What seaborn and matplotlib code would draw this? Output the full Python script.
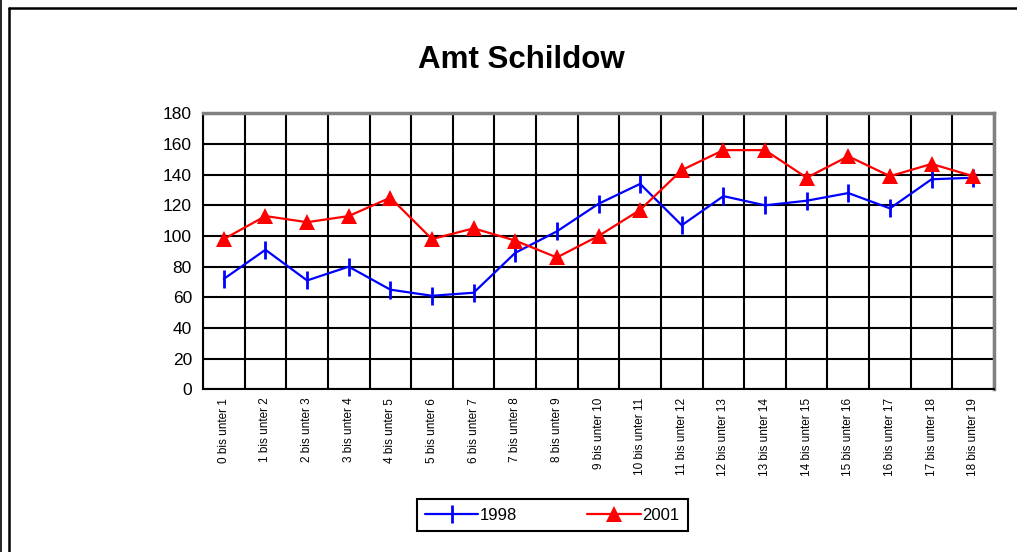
import matplotlib
matplotlib.use("Agg")
import matplotlib.pyplot as plt
from matplotlib.lines import Line2D
import numpy as np
import seaborn as sns

# Data
categories = [f"{i} bis unter {i + 1}" for i in range(19)]
values_1998 = [72, 91, 71, 80, 65, 61, 63, 89, 103, 121, 134, 107, 126, 120, 123, 128, 118, 137, 138]
values_2001 = [98, 113, 109, 113, 125, 98, 105, 97, 86, 100, 117, 143, 156, 156, 138, 152, 139, 147, 139]
y_ticks = list(range(0, 181, 20))

sns.set_style("white")
plt.rcParams['font.family'] = ['Liberation Sans', 'DejaVu Sans']
plt.rcParams['text.color'] = 'black'
plt.rcParams['xtick.color'] = 'black'
plt.rcParams['ytick.color'] = 'black'

fig = plt.figure(figsize=(10.17, 5.52), dpi=100)
ax = fig.add_axes([0.1996, 0.2947, 0.7778, 0.5000])

sns.lineplot(x=categories, y=values_1998, ax=ax, color='#0000FF', marker='|',
             markersize=13, markeredgewidth=2, markeredgecolor='#0000FF',
             linewidth=1.6, sort=False, errorbar=None, label='1998')
sns.lineplot(x=categories, y=values_2001, ax=ax, color='#FF0000', marker='^',
             markersize=11, markeredgewidth=0, markeredgecolor='#FF0000',
             markerfacecolor='#FF0000', linewidth=1.6, sort=False,
             errorbar=None, label='2001')

ax.set_xlim(-0.5, len(categories) - 0.5)
ax.set_ylim(0, 180)
ax.set_yticks(y_ticks)
ax.set_yticklabels([str(v) for v in y_ticks], fontsize=12.5)

# category boundaries carry the ticks and vertical grid lines
ax.set_xticks(np.arange(-0.5, len(categories), 1.0))
ax.set_xticklabels([])
ax.set_xticks(np.arange(len(categories)), minor=True)
ax.set_xticklabels(categories, minor=True, rotation=90, fontsize=8.5)
ax.tick_params(axis='x', which='minor', length=0, pad=6, labelcolor='black')
ax.tick_params(axis='x', which='major', direction='out', length=5, width=1.5, color='black')
ax.tick_params(axis='y', direction='out', length=5, width=1.5, color='black', pad=3,
               labelcolor='black')

ax.grid(True, which='major', color='black', linewidth=1.5)
ax.set_axisbelow(True)
ax.set_xlabel("")
ax.set_ylabel("")

for side in ['left', 'bottom']:
    ax.spines[side].set_color('black')
    ax.spines[side].set_linewidth(1.5)
for side in ['top', 'right']:
    ax.spines[side].set_color('#808080')
    ax.spines[side].set_linewidth(2.5)

ax.get_legend().remove()
handles, labels = ax.get_legend_handles_labels()
leg = fig.legend(handles, labels, loc='center', bbox_to_anchor=(0.543, 0.067),
                 ncol=2, fontsize=12, frameon=True, fancybox=False,
                 edgecolor='black', framealpha=1, handlelength=3.2,
                 handletextpad=0.1, columnspacing=4.2, borderpad=0.5,
                 borderaxespad=0)
leg.get_frame().set_linewidth(1.5)
for t in leg.get_texts():
    t.set_color('black')

fig.text(0.513, 1 - 60 / 552, "Amt Schildow", ha='center', va='center',
         fontsize=22.5, fontweight='bold', color='black')

# outer chart frame
fig.add_artist(Line2D([0.0085, 0.0085], [0, 0.9855], transform=fig.transFigure, color='black', linewidth=1.8))
fig.add_artist(Line2D([0.0085, 1.0], [0.9855, 0.9855], transform=fig.transFigure, color='black', linewidth=1.8))
fig.add_artist(Line2D([0.0008, 0.0008], [0, 1], transform=fig.transFigure, color='black', linewidth=1.2))

fig.savefig("out.png", dpi=100)
